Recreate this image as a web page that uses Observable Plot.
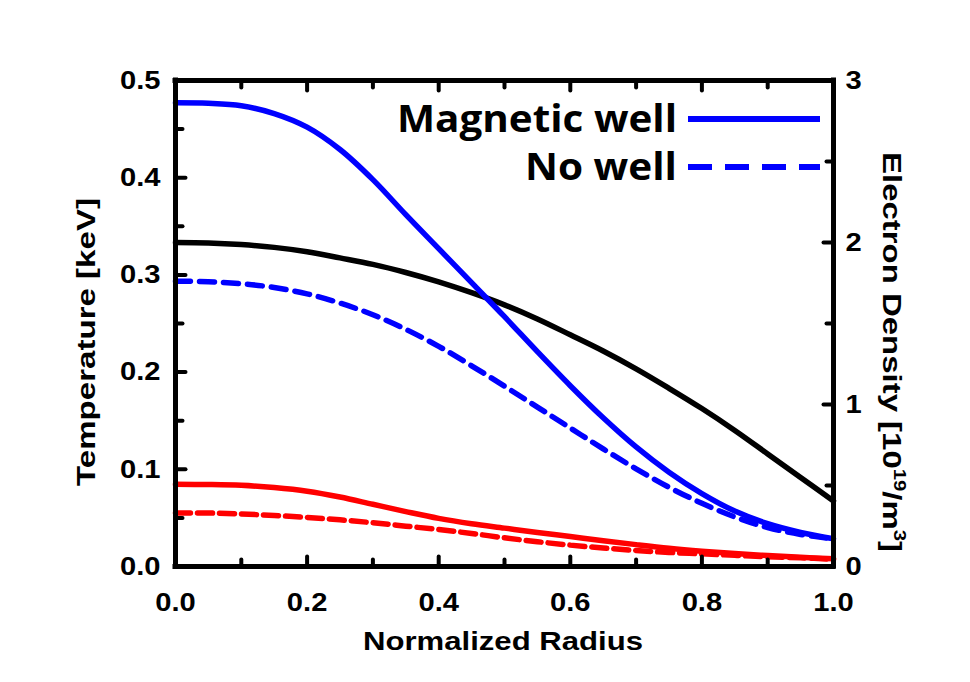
<!DOCTYPE html>
<html>
<head>
<meta charset="utf-8">
<script src="https://cdn.jsdelivr.net/npm/d3@7"></script>
<script src="https://cdn.jsdelivr.net/npm/@observablehq/plot@0.6"></script>
<style>
  body { margin: 0; background: #fff; }
  #wrap { position: relative; width: 970px; height: 682px; background: #fff; }
  #overlay { position: absolute; left: 0; top: 0; pointer-events: none; }
  #overlay text { font-family: "Liberation Sans", Arial, sans-serif; font-weight: bold; fill: #000; }
  #overlay .leg { font-family: "Open Sans", "Noto Sans", sans-serif; font-weight: 700; }
</style>
</head>
<body>
<div id="wrap"></div>
<script>
// ---- data ----
const radius = [0, 0.05, 0.1, 0.15, 0.2, 0.25, 0.3, 0.35, 0.4, 0.45, 0.5, 0.55, 0.6, 0.65, 0.7, 0.75, 0.8, 0.85, 0.9, 0.95, 1.0];
// electron temperature, magnetic well (blue solid) [keV]
const teWell   = [0.477, 0.4765, 0.474, 0.466, 0.452, 0.429, 0.398, 0.362, 0.327, 0.292, 0.257, 0.221, 0.186, 0.153, 0.123, 0.097, 0.075, 0.057, 0.044, 0.035, 0.0285];
// electron temperature, no well (blue dashed) [keV]
const teNoWell = [0.2935, 0.293, 0.291, 0.287, 0.2805, 0.271, 0.259, 0.244, 0.2265, 0.2065, 0.1855, 0.164, 0.1425, 0.121, 0.1005, 0.0815, 0.065, 0.051, 0.040, 0.033, 0.0285];
// ion temperature, magnetic well (red solid) [keV]
const tiWell   = [0.0845, 0.0843, 0.0835, 0.0812, 0.0775, 0.0715, 0.064, 0.0565, 0.0495, 0.044, 0.0395, 0.035, 0.0308, 0.0265, 0.0225, 0.0188, 0.0158, 0.0133, 0.0113, 0.0095, 0.008];
// ion temperature, no well (red dashed) [keV]
const tiNoWell = [0.055, 0.055, 0.054, 0.0525, 0.0505, 0.048, 0.045, 0.0415, 0.038, 0.034, 0.0295, 0.0255, 0.022, 0.019, 0.0165, 0.0145, 0.013, 0.0115, 0.010, 0.009, 0.0075];
// electron density (black, right axis) [1e19 m^-3]
const density  = [2.0, 1.997, 1.987, 1.97, 1.943, 1.905, 1.865, 1.815, 1.757, 1.69, 1.615, 1.528, 1.43, 1.33, 1.22, 1.10, 0.975, 0.84, 0.695, 0.55, 0.405];

const xTicks = [0, 0.2, 0.4, 0.6, 0.8, 1.0];
const xMinor = [0.1, 0.3, 0.5, 0.7, 0.9];
const yTicks = [0, 0.1, 0.2, 0.3, 0.4, 0.5];
const yMinor = [0.05, 0.15, 0.25, 0.35, 0.45];
const densTicks = [0, 1, 2, 3];
const densMinor = [0.5, 1.5, 2.5];
const tMax = 0.5, densMax = 3;
const legendLabels = ["Magnetic well", "No well"];

// ---- build ----
const toT = d => d * tMax / densMax;   // density -> left-axis units
const rows = arr => radius.map((r, i) => ({r, v: arr[i]}));

const BLUE = "#0000ff", RED = "#ff0000";
const LW = 5.5;

const tickShape = {draw(context, l) { context.moveTo(0, 0); context.lineTo(0, -l); }};
const tickOpts = {anchor: "start", shape: tickShape, stroke: "#000", strokeWidth: 4, strokeLinecap: "round"};
const xt = (vals, len, atY, rot) => Plot.vector(vals, {x: d => d, y: () => atY, length: len, rotate: rot, ...tickOpts});
const yt = (vals, len, atX, rot) => Plot.vector(vals, {x: () => atX, y: d => d, length: len, rotate: rot, ...tickOpts});

const chart = Plot.plot({
  width: 970,
  height: 682,
  marginLeft: 175,
  marginRight: 137,
  marginTop: 80,
  marginBottom: 116,
  x: {domain: [0, 1]},
  y: {domain: [0, tMax]},
  style: {fontFamily: "'Liberation Sans', Arial, sans-serif", fontWeight: "bold", fontSize: "26px", color: "#000", background: "#fff", overflow: "visible"},
  marks: [
    Plot.line(rows(tiWell),   {x: "r", y: "v", stroke: RED, strokeWidth: LW, curve: "catmull-rom"}),
    Plot.line(rows(tiNoWell), {x: "r", y: "v", stroke: RED, strokeWidth: LW, strokeDasharray: "15,7", curve: "catmull-rom"}),
    Plot.line(rows(density),  {x: "r", y: d => toT(d.v), stroke: "#000", strokeWidth: LW, curve: "catmull-rom"}),
    Plot.line(rows(teNoWell), {x: "r", y: "v", stroke: BLUE, strokeWidth: LW, strokeDasharray: "15,9", curve: "catmull-rom"}),
    Plot.line(rows(teWell),   {x: "r", y: "v", stroke: BLUE, strokeWidth: LW, curve: "catmull-rom"}),

    // inward ticks
    xt(xTicks, 10, 0, 0), xt(xMinor, 7, 0, 0),
    xt(xTicks, 10, tMax, 180), xt(xMinor, 7, tMax, 180),
    yt(yTicks, 10, 0, 90), yt(yMinor, 7, 0, 90),
    yt(densTicks.map(toT), 10, 1, -90), yt(densMinor.map(toT), 7, 1, -90),

    // tick labels
    Plot.axisX({anchor: "bottom", ticks: xTicks, tickSize: 0, tickPadding: 26, tickFormat: d => d.toFixed(1), label: null, fontSize: 26, fontWeight: "bold"}),
    Plot.axisY({anchor: "left", ticks: yTicks, tickSize: 0, tickPadding: 15, tickFormat: d => d.toFixed(1), label: null, fontSize: 26, fontWeight: "bold"}),
    Plot.axisY({anchor: "right", ticks: densTicks.map(toT), tickSize: 0, tickPadding: 12, tickFormat: d => String(Math.round(d * densMax / tMax)), label: null, fontSize: 26, fontWeight: "bold"}),

    // frame
    Plot.ruleX([0, 1], {x: d => d, stroke: "#000", strokeWidth: 5, strokeLinecap: "square"}),
    Plot.ruleY([0, tMax], {y: d => d, stroke: "#000", strokeWidth: 5, strokeLinecap: "square"})
  ]
});

const wrap = document.getElementById("wrap");
wrap.appendChild(chart);

// widen tick labels slightly to match the reference's wide bold face
chart.querySelectorAll('g[aria-label$="tick label"] text').forEach(t => {
  if (!t.textContent) return;
  const len = t.getComputedTextLength();
  t.setAttribute("textLength", (len * 1.12).toFixed(1));
  t.setAttribute("lengthAdjust", "spacingAndGlyphs");
});

// ---- axis titles and legend (overlay) ----
const ns = "http://www.w3.org/2000/svg";
const ov = document.createElementNS(ns, "svg");
ov.setAttribute("id", "overlay");
ov.setAttribute("width", 970);
ov.setAttribute("height", 682);
wrap.appendChild(ov);

function txt(str, attrs, parent = ov) {
  const t = document.createElementNS(ns, "text");
  for (const k in attrs) t.setAttribute(k, attrs[k]);
  t.textContent = str;
  parent.appendChild(t);
  return t;
}
txt("Normalized Radius", {x: 503, y: 650, "text-anchor": "middle", "font-size": 25, textLength: 280, lengthAdjust: "spacingAndGlyphs"});
txt("Temperature [keV]", {transform: "translate(95,342) rotate(-90)", "text-anchor": "middle", "font-size": 25, textLength: 288, lengthAdjust: "spacingAndGlyphs"});

// right title with superscripts
const rt = document.createElementNS(ns, "text");
rt.setAttribute("transform", "translate(883,352) rotate(90)");
rt.setAttribute("text-anchor", "middle");
rt.setAttribute("font-size", 26);
rt.setAttribute("textLength", 400);
rt.setAttribute("lengthAdjust", "spacingAndGlyphs");
const parts = [["Electron Density [10", 0], ["19", 1], ["/m", 0], ["3", 1], ["]", 0]];
for (const [s, sup] of parts) {
  const ts = document.createElementNS(ns, "tspan");
  ts.textContent = s;
  if (sup) { ts.setAttribute("font-size", 16); ts.setAttribute("dy", -11); }
  else if (rt.childNodes.length) { ts.setAttribute("dy", 11); }
  rt.appendChild(ts);
}
ov.appendChild(rt);

// legend
const legY = [119, 167];
const legDash = [null, "24,13"];
const legLen = [280, 152];
legendLabels.forEach((lab, i) => {
  txt(lab, {class: "leg", x: 677, y: legY[i] + 13, "text-anchor": "end", "font-size": 38, textLength: legLen[i], lengthAdjust: "spacingAndGlyphs"});
  const ln = document.createElementNS(ns, "line");
  ln.setAttribute("x1", 688); ln.setAttribute("x2", 820);
  ln.setAttribute("y1", legY[i]); ln.setAttribute("y2", legY[i]);
  ln.setAttribute("stroke", BLUE); ln.setAttribute("stroke-width", 6);
  if (legDash[i]) ln.setAttribute("stroke-dasharray", legDash[i]);
  ov.appendChild(ln);
});
</script>
</body>
</html>
